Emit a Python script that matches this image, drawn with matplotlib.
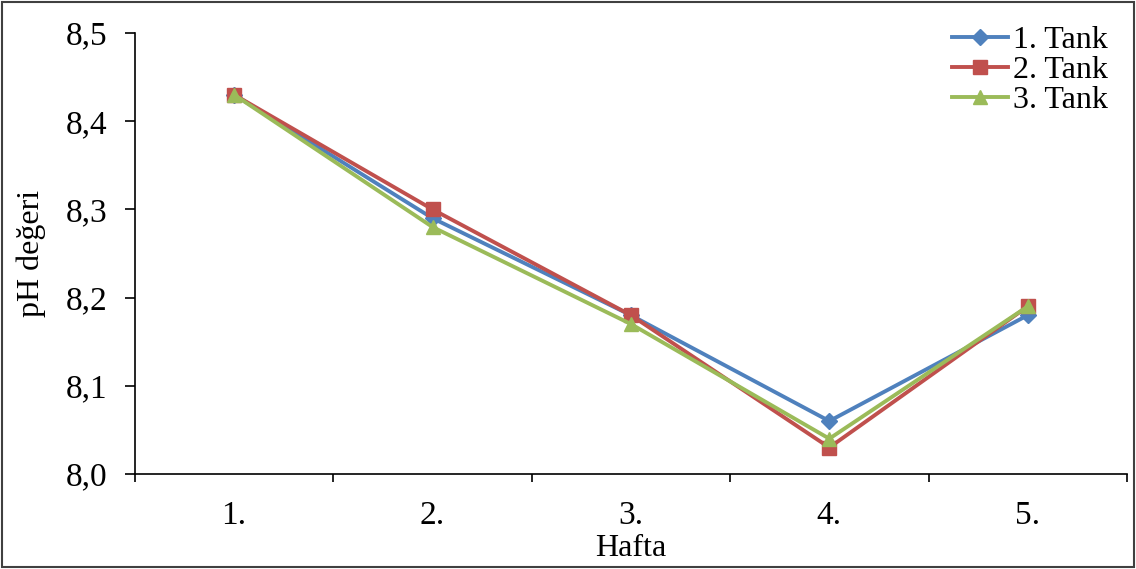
import matplotlib.pyplot as plt
from matplotlib.patches import Rectangle
from matplotlib.ticker import FuncFormatter, FixedLocator

plt.rcParams['font.family'] = ['Liberation Serif', 'DejaVu Serif']

weeks = ['1.', '2.', '3.', '4.', '5.']
tank1 = [8.43, 8.29, 8.18, 8.06, 8.18]
tank2 = [8.43, 8.30, 8.18, 8.03, 8.19]
tank3 = [8.43, 8.28, 8.17, 8.04, 8.19]
series_names = ['1. Tank', '2. Tank', '3. Tank']

fig = plt.figure(figsize=(11.36, 5.69), dpi=100)
ax = fig.add_axes([0.1188, 0.167, 0.8732, 0.775])

x = list(range(1, len(weeks) + 1))
ax.plot(x, tank1, color='#4F81BD', lw=2.8, marker='D', ms=8.5, label=series_names[0])
ax.plot(x, tank2, color='#C0504D', lw=2.8, marker='s', ms=9.5, label=series_names[1])
ax.plot(x, tank3, color='#9BBB59', lw=2.8, marker='^', ms=10.5, label=series_names[2])

ax.set_xlim(0.5, len(weeks) + 0.5)
ax.set_ylim(8.0, 8.5)
ax.set_yticks([8.0, 8.1, 8.2, 8.3, 8.4, 8.5])
ax.yaxis.set_major_formatter(FuncFormatter(lambda v, p: f'{v:.1f}'.replace('.', ',')))

# category labels in the middle, tick marks on the boundaries
ax.set_xticks(x)
ax.set_xticklabels(weeks)
ax.xaxis.set_minor_locator(FixedLocator([i + 0.5 for i in range(0, len(weeks) + 1)]))
ax.tick_params(axis='x', which='major', length=0, pad=19, labelsize=24)
ax.tick_params(axis='x', which='minor', length=6, width=1.2, direction='out')
ax.tick_params(axis='y', length=7, width=1.2, direction='out', labelsize=24, pad=13)

for s in ['top', 'right']:
    ax.spines[s].set_visible(False)
for s in ['left', 'bottom']:
    ax.spines[s].set_linewidth(1.2)

ax.set_xlabel('Hafta', fontsize=23, labelpad=2)
ax.set_ylabel('pH değeri', fontsize=23, labelpad=14)

ax.legend(loc='upper right', bbox_to_anchor=(1.0, 1.06), frameon=False, fontsize=23,
          handlelength=1.75, handletextpad=0.15, labelspacing=0.02, borderaxespad=0.2)

fig.patches.append(Rectangle((0.002, 0.003), 0.996, 0.994, transform=fig.transFigure,
                             fill=False, edgecolor='#404040', lw=1.5))

fig.savefig('out.png', dpi=100)
